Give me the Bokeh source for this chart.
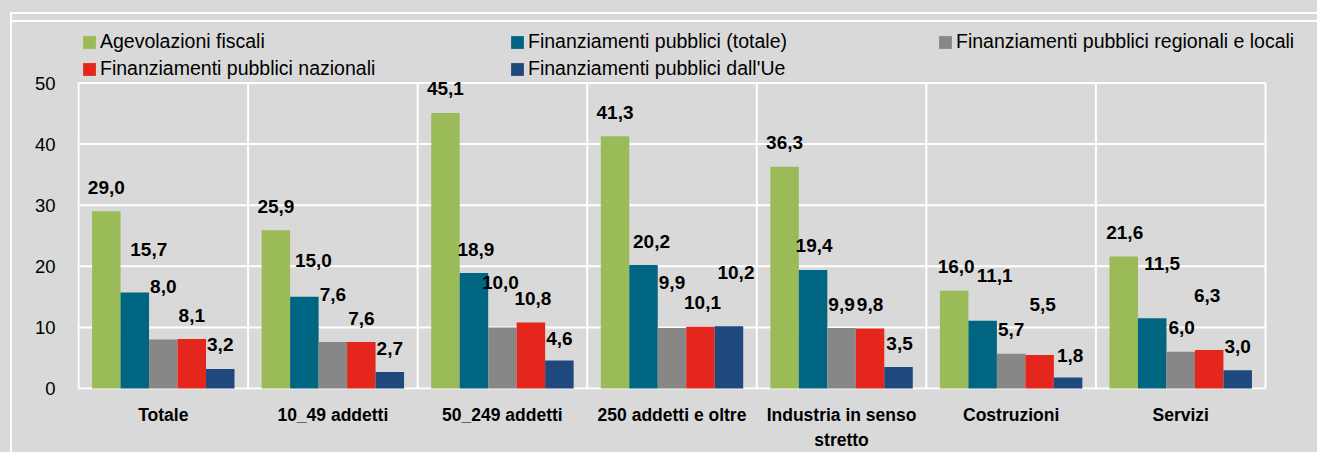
from bokeh.plotting import figure
from bokeh.models import (ColumnDataSource, Legend, LegendItem, FixedTicker,
                          Range1d, GlobalInlineStyleSheet, InlineStyleSheet)
from bokeh.core.properties import value
from bokeh.embed import file_html
from bokeh.resources import INLINE

# ---------------- data ----------------
categories = ["Totale", "10_49 addetti", "50_249 addetti", "250 addetti e oltre",
              "Industria in senso\nstretto", "Costruzioni", "Servizi"]
series_names = ["Agevolazioni fiscali", "Finanziamenti pubblici (totale)",
                "Finanziamenti pubblici regionali e locali",
                "Finanziamenti pubblici nazionali", "Finanziamenti pubblici dall'Ue"]
agevolazioni_fiscali = [29.0, 25.9, 45.1, 41.3, 36.3, 16.0, 21.6]
fin_pubblici_totale = [15.7, 15.0, 18.9, 20.2, 19.4, 11.1, 11.5]
fin_regionali_locali = [8.0, 7.6, 10.0, 9.9, 9.9, 5.7, 6.0]
fin_nazionali = [8.1, 7.6, 10.8, 10.1, 9.8, 5.5, 6.3]
fin_ue = [3.2, 2.7, 4.6, 10.2, 3.5, 1.8, 3.0]
y_ticks = [0, 10, 20, 30, 40, 50]

series_values = [agevolazioni_fiscali, fin_pubblici_totale, fin_regionali_locali,
                 fin_nazionali, fin_ue]

# ---------------- style / layout ----------------
colors = ["#9BBB59", "#006580", "#878787", "#E5261C", "#1F497D"]
BG = "#D9D9D9"
FONT = "Liberation Sans"
bar_w = 0.168

W, H = 1317, 452
B_LEFT, B_RIGHT, B_TOP, B_BOTTOM = 77, 0, 26, 63
PX_PER_Y = 6.11            # vertical pixels per value unit
PX_PER_X = 169.57          # horizontal pixels per category
X_PAD = 1 / PX_PER_X
Y_PAD = 1 / PX_PER_Y
x_start = -X_PAD
x_end = x_start + (W - B_LEFT - B_RIGHT) / PX_PER_X
y_start = -Y_PAD
y_end = y_start + (H - B_TOP - B_BOTTOM) / PX_PER_Y

# manual label nudges (pixels) reproducing the reference's label placement
label_lift = [[0, 19, 29, 0, 0],
              [0, 12, 24, 0, 0],
              [0, 0, 21, 0, -2],
              [0, 0, 22, 0, 30],
              [0, 0, 0, 0, 0],
              [0, 21, 0, 26, -2],
              [0, 31, 0, 31, 0]]
label_dx = [[0, 14, 0, 0, 0],
            [0, 9, 0, 0, 0],
            [0, 2, -2, 2, 0],
            [0, 8, 0, 2, 7],
            [0, 1, 0, 0, 1],
            [2, 12, 0, 3, 2],
            [1, 10, 1, -2, 0]]

n = len(categories)
p = figure(width=W, height=H, output_backend="svg", toolbar_location=None,
           x_range=Range1d(x_start, x_end), y_range=Range1d(y_start, y_end),
           min_border_left=B_LEFT, min_border_right=B_RIGHT, min_border_top=B_TOP,
           min_border_bottom=B_BOTTOM)
p.background_fill_color = BG
p.border_fill_color = BG
p.outline_line_color = None
p.xgrid.visible = False
p.ygrid.visible = False

# white plot box, horizontal grid lines and category separators
y_top = max(y_ticks)
grid_src = ColumnDataSource(dict(
    x0=[0] * len(y_ticks) + list(range(n + 1)),
    x1=[n] * len(y_ticks) + list(range(n + 1)),
    y0=list(y_ticks) + [0] * (n + 1),
    y1=list(y_ticks) + [y_top] * (n + 1),
))
p.segment(x0="x0", y0="y0", x1="x1", y1="y1", source=grid_src,
          line_color="white", line_width=2)

# axes
p.yaxis.ticker = FixedTicker(ticks=y_ticks)
p.yaxis.axis_line_color = None
p.yaxis.major_tick_line_color = None
p.yaxis.minor_tick_line_color = None
p.yaxis.major_tick_out = 0
p.yaxis.minor_tick_out = 0
p.yaxis.major_label_standoff = 22
p.yaxis.major_label_text_font = FONT
p.yaxis.major_label_text_font_size = "18.5px"
p.yaxis.major_label_text_color = "black"

centers = [i + 0.5 for i in range(n)]
p.xaxis.ticker = FixedTicker(ticks=centers)
p.xaxis.major_label_overrides = {c: lab for c, lab in zip(centers, categories)}
p.xaxis.axis_line_color = None
p.xaxis.major_tick_line_color = None
p.xaxis.minor_tick_line_color = None
p.xaxis.major_tick_out = 0
p.xaxis.minor_tick_out = 0
p.xaxis.major_label_standoff = 15
p.xaxis.major_label_text_font = FONT
p.xaxis.major_label_text_font_style = "bold"
p.xaxis.major_label_text_font_size = "17.5px"
p.xaxis.major_label_text_line_height = 1.25
p.xaxis.major_label_text_color = "black"

items = []
for j, (name, vals, col) in enumerate(zip(series_names, series_values, colors)):
    xs = [c + (j - 2) * bar_w for c in centers]
    src = ColumnDataSource(dict(
        x=xs, top=vals,
        label=[f"{v:.1f}".replace(".", ",") for v in vals],
        yoff=[-(24 + label_lift[i][j]) for i in range(len(vals))],
        xoff=[label_dx[i][j] for i in range(len(vals))],
    ))
    r = p.vbar(x="x", top="top", width=bar_w, bottom=0, source=src,
               fill_color=col, line_color=None)
    p.text(x="x", y="top", text="label", x_offset="xoff", y_offset="yoff",
           source=src, text_align="center", text_baseline="middle",
           text_font=value(FONT), text_font_style="bold",
           text_font_size="19px", text_color="black")
    items.append(LegendItem(label=name, renderers=[r]))

legend = Legend(items=items, ncols=3, orientation="horizontal", location="top_left",
                glyph_width=16, glyph_height=16, label_standoff=3,
                label_width=405, spacing=4, padding=0, margin=4,
                label_text_font=FONT, label_text_font_size="19.5px",
                label_text_color="black",
                border_line_color=None, background_fill_color=None,
                background_fill_alpha=0)
p.add_layout(legend, "center")

p.stylesheets = [
    GlobalInlineStyleSheet(css="body { background: #D9D9D9; }"),
    InlineStyleSheet(css="""
:host { position: relative; }
:host::after { content: ""; position: absolute; left: 10px; top: 12px; right: 0;
  height: 6px; border-top: 2px solid white; border-bottom: 2px solid white;
  pointer-events: none; z-index: 10; }
:host::before { content: ""; position: absolute; left: 10px; top: 12px; bottom: 0;
  border-left: 2px solid white; pointer-events: none; z-index: 10; }
"""),
]

open("out.html", "w").write(file_html(p, INLINE))
